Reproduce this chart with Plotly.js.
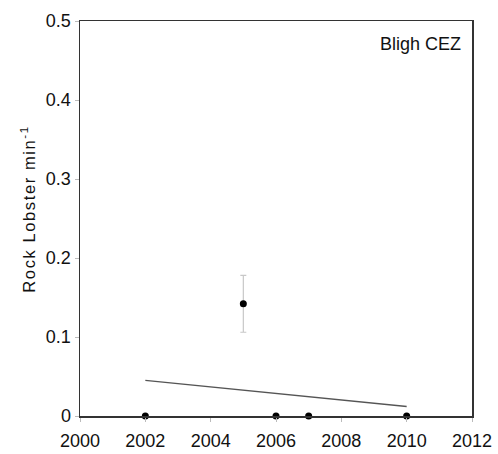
<!DOCTYPE html>
<html>
<head>
<meta charset="utf-8">
<script src="https://cdn.plot.ly/plotly-3.0.1.min.js"></script>
<style>html,body{margin:0;padding:0;background:#fff}#chart{width:498px;height:454px}
.ytitlelabel{letter-spacing:1.6px}</style>
</head>
<body>
<div id="chart"></div>
<script>
// Data
var years = [2002, 2005, 2006, 2007, 2010];
var values = [0, 0.142, 0, 0, 0];
var errors = [0, 0.036, 0, 0, 0];
var trendYears = [2002, 2010];
var trendValues = [0.045, 0.012];
var xTicks = [2000, 2002, 2004, 2006, 2008, 2010, 2012];
var yTicks = [0, 0.1, 0.2, 0.3, 0.4, 0.5];
var yTickLabels = ['0', '0.1', '0.2', '0.3', '0.4', '0.5'];
var siteLabel = 'Bligh CEZ';
var yTitle = 'Rock Lobster min<sup>-1</sup>';

var font = 'Liberation Sans, Arial, Helvetica, sans-serif';

var traces = [
  {
    x: trendYears, y: trendValues, mode: 'lines', type: 'scatter',
    line: {color: '#555', width: 1.3}, hoverinfo: 'skip', showlegend: false
  },
  {
    x: years, y: values, mode: 'markers', type: 'scatter',
    marker: {color: '#000', size: 7},
    error_y: {type: 'data', array: errors, visible: true, color: '#c8c8c8', thickness: 1.2, width: 3},
    cliponaxis: false, showlegend: false
  }
];

var layout = {
  width: 498, height: 454,
  margin: {l: 79.5, r: 25.5, t: 20.7, b: 38.3},
  paper_bgcolor: '#fff', plot_bgcolor: '#fff',
  font: {family: font, size: 18, color: '#111'},
  showlegend: false,
  xaxis: {
    range: [2000, 2012], tickvals: xTicks, ticktext: xTicks.map(String),
    showgrid: false, zeroline: false,
    showline: true, linecolor: '#333', linewidth: 1.5, mirror: true,
    ticks: 'outside', ticklen: 4, tickcolor: '#bbb', tickwidth: 1,
    ticklabelstandoff: 4,
    tickfont: {family: font, size: 18, color: '#111'}
  },
  yaxis: {
    range: [0, 0.5], tickvals: yTicks, ticktext: yTickLabels,
    showgrid: false, zeroline: false,
    showline: true, linecolor: '#333', linewidth: 1.5, mirror: true,
    ticks: 'outside', ticklen: 4, tickcolor: '#bbb', tickwidth: 1,
    tickfont: {family: font, size: 18, color: '#111'}
  },
  annotations: [
    {
      xref: 'paper', yref: 'paper', x: 0.976, y: 0.941, xanchor: 'right', yanchor: 'middle',
      text: siteLabel, showarrow: false, font: {family: font, size: 18, color: '#111'}
    },
    {
      xref: 'paper', yref: 'paper', x: -0.1336, y: 0.525, xanchor: 'center', yanchor: 'middle',
      textangle: -90, text: yTitle, showarrow: false, captureevents: false,
      font: {family: font, size: 16.5, color: '#111'}
    }
  ]
};

Plotly.newPlot('chart', traces, layout, {displayModeBar: false, staticPlot: true}).then(function () {
  var t = document.querySelectorAll('.annotation-text');
  if (t.length > 1) t[1].classList.add('ytitlelabel');
});
</script>
</body>
</html>
